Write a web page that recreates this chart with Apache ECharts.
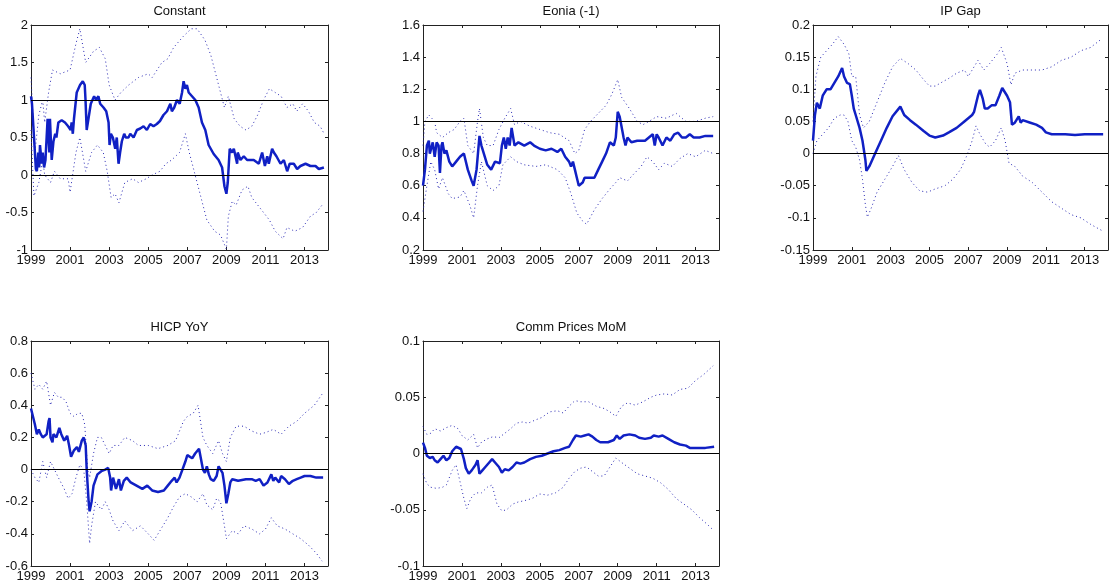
<!DOCTYPE html>
<html>
<head>
<meta charset="utf-8">
<script src="https://cdn.jsdelivr.net/npm/echarts@6/dist/echarts.min.js"></script>
<style>
  html, body { margin: 0; padding: 0; background: #fff; }
  #chart { width: 1110px; height: 586px; }
</style>
</head>
<body>
<div id="chart"></div>
<script>
// Time-varying coefficient estimates: median path and error bands, [year, value]
const titles = ['Constant', 'Eonia (-1)', 'IP Gap', 'HICP YoY', 'Comm Prices MoM'];

const xStart = 1999, xEnd = 2014.2, xStep = 2, lastYearLabel = 2013;

// y-axis ranges per panel: [min, max, step]
const constantAxis = [-1, 2, 0.5];
const eoniaAxis = [0.2, 1.6, 0.2];
const ipGapAxis = [-0.15, 0.2, 0.05];
const hicpAxis = [-0.6, 0.8, 0.2];
const commAxis = [-0.1, 0.1, 0.05];

// horizontal reference levels per panel
const constantRefs = [0, 1];
const eoniaRefs = [1];
const ipGapRefs = [0];
const hicpRefs = [0];
const commRefs = [0];

const constantMid = [[1999.0,1.05],[1999.05,0.95],[1999.12,0.65],[1999.2,0.3],[1999.25,0.08],[1999.3,0.05],[1999.37,0.3],[1999.42,0.1],[1999.46,0.4],[1999.55,0.15],[1999.6,0.3],[1999.67,0.1],[1999.74,0.2],[1999.8,0.5],[1999.85,0.75],[1999.94,0.3],[1999.97,0.75],[2000.06,0.2],[2000.15,0.45],[2000.24,0.55],[2000.3,0.5],[2000.4,0.7],[2000.57,0.73],[2000.74,0.7],[2000.9,0.65],[2001.03,0.6],[2001.08,0.7],[2001.14,0.55],[2001.2,0.75],[2001.34,1.1],[2001.51,1.2],[2001.65,1.25],[2001.75,1.2],[2001.79,1.0],[2001.85,0.6],[2001.94,0.75],[2002.06,0.95],[2002.23,1.05],[2002.33,1.0],[2002.45,1.05],[2002.54,0.95],[2002.71,0.9],[2002.85,0.85],[2002.97,0.7],[2003.02,0.4],[2003.09,0.55],[2003.19,0.5],[2003.31,0.35],[2003.39,0.5],[2003.48,0.15],[2003.56,0.3],[2003.65,0.45],[2003.77,0.55],[2003.85,0.5],[2003.99,0.5],[2004.08,0.55],[2004.25,0.5],[2004.42,0.6],[2004.59,0.62],[2004.76,0.65],[2004.93,0.6],[2005.1,0.68],[2005.27,0.65],[2005.44,0.68],[2005.6,0.72],[2005.78,0.8],[2005.96,0.85],[2006.13,0.95],[2006.21,0.85],[2006.33,0.9],[2006.47,1.0],[2006.61,0.95],[2006.73,1.1],[2006.81,1.25],[2006.9,1.15],[2006.98,1.2],[2007.07,1.1],[2007.24,1.05],[2007.41,1.0],[2007.58,0.9],[2007.75,0.7],[2007.92,0.6],[2008.09,0.4],[2008.35,0.28],[2008.6,0.2],[2008.78,0.1],[2008.9,-0.15],[2009.0,-0.25],[2009.07,-0.1],[2009.17,0.35],[2009.29,0.3],[2009.38,0.35],[2009.55,0.15],[2009.58,0.3],[2009.72,0.2],[2009.89,0.25],[2010.06,0.2],[2010.4,0.2],[2010.66,0.15],[2010.83,0.3],[2010.97,0.12],[2011.09,0.25],[2011.17,0.15],[2011.34,0.35],[2011.43,0.3],[2011.56,0.25],[2011.77,0.15],[2011.94,0.2],[2012.11,0.05],[2012.24,0.15],[2012.45,0.15],[2012.62,0.08],[2012.79,0.12],[2013.05,0.15],[2013.3,0.12],[2013.56,0.12],[2013.73,0.08],[2013.99,0.1]];
const constantUpper = [[1999.0,1.3],[1999.2,0.3],[1999.4,0.8],[1999.6,1.0],[1999.7,0.7],[1999.9,1.1],[2000.1,1.4],[2000.5,1.35],[2001.0,1.4],[2001.3,1.75],[2001.5,1.95],[2001.8,1.5],[2002.2,1.65],[2002.5,1.7],[2002.8,1.55],[2003.0,1.2],[2003.3,1.0],[2003.6,1.1],[2004.0,1.2],[2004.5,1.3],[2005.0,1.35],[2005.2,1.3],[2005.7,1.5],[2006.0,1.55],[2006.3,1.7],[2006.8,1.85],[2007.2,1.95],[2007.5,1.95],[2007.9,1.8],[2008.2,1.6],[2008.5,1.3],[2008.9,0.9],[2009.1,1.05],[2009.4,0.75],[2009.7,0.65],[2010.0,0.6],[2010.3,0.65],[2010.6,0.8],[2010.9,1.0],[2011.2,1.15],[2011.5,1.1],[2011.8,1.05],[2012.1,0.9],[2012.4,0.95],[2012.6,0.85],[2012.9,0.95],[2013.2,0.85],[2013.5,0.7],[2013.8,0.65],[2014.0,0.55]];
const constantLower = [[1999.0,0.6],[1999.15,-0.28],[1999.4,-0.1],[1999.6,0.2],[1999.7,0.0],[2000.0,-0.1],[2000.2,0.05],[2000.5,-0.05],[2000.9,-0.05],[2001.0,-0.23],[2001.3,0.3],[2001.5,0.5],[2001.8,0.05],[2002.1,0.3],[2002.4,0.4],[2002.7,0.3],[2002.9,0.05],[2003.1,-0.3],[2003.3,-0.25],[2003.5,-0.37],[2003.8,-0.1],[2004.2,-0.05],[2004.5,-0.1],[2004.9,-0.05],[2005.2,0.0],[2005.6,0.05],[2005.9,0.15],[2006.2,0.2],[2006.6,0.3],[2006.9,0.55],[2007.1,0.3],[2007.4,0.0],[2007.7,-0.3],[2008.0,-0.6],[2008.4,-0.75],[2008.7,-0.8],[2009.0,-0.99],[2009.1,-0.55],[2009.3,-0.35],[2009.5,-0.4],[2009.8,-0.2],[2010.1,-0.15],[2010.3,-0.3],[2010.6,-0.4],[2010.9,-0.5],[2011.2,-0.6],[2011.5,-0.75],[2011.9,-0.85],[2012.1,-0.7],[2012.5,-0.75],[2012.9,-0.7],[2013.3,-0.55],[2013.6,-0.5],[2013.9,-0.4]];

const eoniaMid = [[1999.0,0.6],[1999.1,0.7],[1999.2,0.85],[1999.3,0.88],[1999.35,0.8],[1999.5,0.87],[1999.6,0.78],[1999.7,0.87],[1999.8,0.85],[1999.87,0.68],[1999.95,0.85],[2000.0,0.87],[2000.1,0.8],[2000.2,0.82],[2000.35,0.75],[2000.5,0.72],[2000.7,0.75],[2000.9,0.78],[2001.1,0.8],[2001.3,0.7],[2001.5,0.63],[2001.6,0.6],[2001.75,0.7],[2001.9,0.91],[2002.0,0.85],[2002.3,0.73],[2002.5,0.7],[2002.7,0.75],[2002.95,0.74],[2003.05,0.85],[2003.15,0.9],[2003.25,0.83],[2003.35,0.9],[2003.45,0.85],[2003.55,0.96],[2003.7,0.85],[2003.9,0.87],[2004.2,0.85],[2004.5,0.87],[2004.7,0.85],[2005.0,0.83],[2005.3,0.82],[2005.6,0.83],[2005.9,0.81],[2006.1,0.83],[2006.3,0.78],[2006.5,0.75],[2006.6,0.72],[2006.7,0.75],[2006.8,0.7],[2006.9,0.65],[2007.0,0.6],[2007.2,0.62],[2007.3,0.65],[2007.8,0.65],[2008.0,0.7],[2008.2,0.75],[2008.4,0.8],[2008.6,0.87],[2008.8,0.85],[2008.9,0.9],[2009.0,1.06],[2009.1,1.03],[2009.3,0.9],[2009.4,0.85],[2009.5,0.9],[2009.7,0.87],[2010.0,0.88],[2010.4,0.88],[2010.6,0.9],[2010.8,0.92],[2010.9,0.85],[2011.0,0.92],[2011.1,0.9],[2011.3,0.85],[2011.5,0.9],[2011.7,0.88],[2011.9,0.92],[2012.1,0.93],[2012.3,0.9],[2012.5,0.9],[2012.7,0.92],[2012.9,0.9],[2013.2,0.9],[2013.5,0.91],[2013.9,0.91]];
const eoniaUpper = [[1999.0,0.85],[1999.1,1.0],[1999.3,1.04],[1999.6,1.0],[1999.7,0.93],[2000.0,0.9],[2000.3,0.93],[2000.6,0.95],[2000.9,1.0],[2001.1,1.02],[2001.3,0.85],[2001.6,0.8],[2001.8,1.0],[2001.9,1.08],[2002.1,0.9],[2002.3,0.85],[2002.6,0.85],[2002.9,0.95],[2003.2,1.02],[2003.5,1.08],[2003.7,0.98],[2004.0,1.0],[2004.5,0.97],[2005.0,0.95],[2005.5,0.93],[2006.0,0.92],[2006.5,0.88],[2006.8,0.8],[2007.0,0.82],[2007.3,0.95],[2007.6,1.0],[2008.0,1.05],[2008.4,1.1],[2008.7,1.17],[2009.0,1.26],[2009.2,1.15],[2009.6,1.08],[2010.0,1.0],[2010.3,0.98],[2010.6,1.0],[2011.0,1.03],[2011.5,1.02],[2012.0,1.05],[2012.5,1.0],[2013.0,1.0],[2013.5,1.02],[2013.9,1.03]];
const eoniaLower = [[1999.0,0.44],[1999.2,0.6],[1999.4,0.75],[1999.6,0.7],[1999.8,0.58],[2000.0,0.65],[2000.3,0.55],[2000.5,0.52],[2000.9,0.53],[2001.1,0.57],[2001.4,0.48],[2001.6,0.4],[2001.8,0.6],[2002.0,0.75],[2002.3,0.6],[2002.6,0.57],[2002.9,0.6],[2003.1,0.73],[2003.5,0.78],[2003.8,0.75],[2004.2,0.73],[2004.8,0.72],[2005.3,0.73],[2005.9,0.7],[2006.3,0.65],[2006.6,0.55],[2006.9,0.43],[2007.2,0.38],[2007.4,0.36],[2007.8,0.45],[2008.2,0.52],[2008.6,0.58],[2008.9,0.62],[2009.1,0.65],[2009.5,0.63],[2009.8,0.67],[2010.2,0.72],[2010.5,0.78],[2010.8,0.75],[2011.1,0.7],[2011.4,0.74],[2011.8,0.72],[2012.2,0.77],[2012.6,0.8],[2013.0,0.78],[2013.5,0.82],[2013.9,0.8]];

const ipGapMid = [[1999.0,0.02],[1999.1,0.06],[1999.2,0.079],[1999.35,0.07],[1999.5,0.09],[1999.7,0.1],[1999.9,0.1],[2000.1,0.11],[2000.3,0.12],[2000.5,0.133],[2000.6,0.12],[2000.75,0.11],[2000.9,0.108],[2001.0,0.09],[2001.1,0.07],[2001.2,0.06],[2001.3,0.06],[2001.4,0.04],[2001.55,0.02],[2001.7,-0.01],[2001.75,-0.027],[2001.9,-0.02],[2002.2,0.0],[2002.5,0.02],[2002.8,0.04],[2003.1,0.058],[2003.5,0.073],[2003.7,0.06],[2004.0,0.052],[2004.3,0.045],[2004.7,0.035],[2005.0,0.028],[2005.3,0.025],[2005.7,0.028],[2006.0,0.033],[2006.4,0.04],[2006.8,0.05],[2007.0,0.055],[2007.2,0.06],[2007.3,0.065],[2007.5,0.09],[2007.6,0.099],[2007.75,0.085],[2007.85,0.07],[2008.0,0.07],[2008.2,0.075],[2008.4,0.075],[2008.6,0.09],[2008.75,0.102],[2009.0,0.09],[2009.15,0.08],[2009.25,0.045],[2009.4,0.048],[2009.5,0.05],[2009.6,0.058],[2009.7,0.048],[2009.8,0.052],[2010.2,0.048],[2010.5,0.045],[2010.8,0.04],[2011.0,0.033],[2011.3,0.03],[2012.0,0.03],[2012.5,0.029],[2013.0,0.03],[2013.5,0.03],[2013.95,0.03]];
const ipGapUpper = [[1999.0,0.05],[1999.15,0.12],[1999.4,0.15],[1999.7,0.16],[2000.0,0.17],[2000.3,0.182],[2000.6,0.17],[2000.85,0.155],[2001.0,0.12],[2001.2,0.12],[2001.4,0.06],[2001.6,0.04],[2001.9,0.05],[2002.3,0.08],[2002.7,0.11],[2003.1,0.135],[2003.5,0.148],[2003.9,0.14],[2004.3,0.13],[2004.7,0.115],[2005.0,0.105],[2005.3,0.105],[2005.7,0.112],[2006.0,0.117],[2006.4,0.125],[2006.8,0.13],[2007.0,0.12],[2007.3,0.135],[2007.5,0.145],[2007.8,0.13],[2008.1,0.14],[2008.5,0.155],[2008.7,0.165],[2009.0,0.14],[2009.2,0.107],[2009.4,0.125],[2009.8,0.13],[2010.3,0.13],[2010.8,0.13],[2011.3,0.135],[2011.8,0.145],[2012.3,0.15],[2012.8,0.16],[2013.3,0.165],[2013.9,0.179]];
const ipGapLower = [[1999.0,0.0],[1999.2,0.02],[1999.5,0.03],[1999.8,0.04],[2000.1,0.055],[2000.4,0.06],[2000.6,0.06],[2000.8,0.05],[2001.0,0.02],[2001.2,0.01],[2001.4,-0.01],[2001.55,-0.04],[2001.7,-0.08],[2001.8,-0.099],[2002.0,-0.085],[2002.3,-0.06],[2002.7,-0.04],[2003.1,-0.02],[2003.4,-0.003],[2003.7,-0.025],[2004.1,-0.045],[2004.5,-0.058],[2004.9,-0.06],[2005.3,-0.055],[2005.8,-0.05],[2006.2,-0.04],[2006.6,-0.025],[2006.9,-0.005],[2007.2,0.02],[2007.4,0.043],[2007.6,0.03],[2007.9,0.015],[2008.1,0.01],[2008.4,0.02],[2008.7,0.04],[2008.9,0.02],[2009.1,-0.015],[2009.4,-0.02],[2009.8,-0.035],[2010.3,-0.045],[2010.8,-0.06],[2011.3,-0.075],[2011.8,-0.085],[2012.3,-0.095],[2012.8,-0.1],[2013.3,-0.11],[2013.9,-0.12]];

const hicpMid = [[1999.0,0.38],[1999.1,0.33],[1999.2,0.28],[1999.3,0.22],[1999.4,0.25],[1999.5,0.22],[1999.6,0.2],[1999.8,0.22],[1999.9,0.3],[1999.95,0.32],[2000.0,0.2],[2000.1,0.17],[2000.15,0.22],[2000.3,0.2],[2000.45,0.26],[2000.55,0.22],[2000.7,0.18],[2000.85,0.21],[2000.95,0.15],[2001.05,0.08],[2001.2,0.12],[2001.35,0.14],[2001.45,0.11],[2001.6,0.18],[2001.7,0.2],[2001.8,0.15],[2001.85,0.0],[2001.95,-0.2],[2002.0,-0.26],[2002.1,-0.2],[2002.2,-0.1],[2002.4,-0.03],[2002.6,-0.01],[2002.8,0.0],[2002.95,0.01],[2003.05,-0.05],[2003.1,-0.13],[2003.2,-0.05],[2003.35,-0.12],[2003.5,-0.06],[2003.6,-0.13],[2003.75,-0.07],[2003.9,-0.05],[2004.1,-0.08],[2004.4,-0.1],[2004.7,-0.12],[2004.95,-0.1],[2005.2,-0.13],[2005.5,-0.14],[2005.8,-0.13],[2006.0,-0.1],[2006.2,-0.07],[2006.35,-0.05],[2006.45,-0.08],[2006.6,-0.05],[2006.75,0.0],[2006.9,0.05],[2007.0,0.09],[2007.1,0.08],[2007.25,0.07],[2007.4,0.1],[2007.6,0.13],[2007.7,0.12],[2007.8,0.0],[2007.9,-0.02],[2008.0,0.02],[2008.1,-0.03],[2008.2,-0.06],[2008.35,-0.07],[2008.5,-0.04],[2008.6,0.02],[2008.7,0.03],[2008.8,-0.02],[2008.9,-0.1],[2009.0,-0.21],[2009.1,-0.15],[2009.2,-0.08],[2009.3,-0.06],[2009.6,-0.07],[2010.0,-0.06],[2010.3,-0.06],[2010.5,-0.07],[2010.7,-0.06],[2010.9,-0.1],[2011.0,-0.1],[2011.1,-0.08],[2011.3,-0.03],[2011.4,-0.07],[2011.5,-0.05],[2011.7,-0.08],[2011.8,-0.04],[2012.0,-0.06],[2012.2,-0.09],[2012.4,-0.07],[2012.6,-0.06],[2012.8,-0.05],[2013.0,-0.04],[2013.3,-0.04],[2013.6,-0.05],[2013.95,-0.05]];
const hicpUpper = [[1999.0,0.6],[1999.2,0.5],[1999.4,0.53],[1999.6,0.5],[1999.8,0.55],[2000.0,0.4],[2000.2,0.48],[2000.4,0.45],[2000.6,0.45],[2000.8,0.42],[2001.0,0.35],[2001.2,0.33],[2001.4,0.35],[2001.6,0.35],[2001.75,0.28],[2001.9,0.0],[2002.0,-0.05],[2002.2,0.1],[2002.4,0.2],[2002.6,0.2],[2002.8,0.15],[2003.0,0.1],[2003.2,0.15],[2003.5,0.15],[2003.8,0.2],[2004.2,0.18],[2004.5,0.15],[2005.0,0.15],[2005.5,0.13],[2006.0,0.15],[2006.4,0.18],[2006.8,0.3],[2007.0,0.33],[2007.3,0.35],[2007.55,0.4],[2007.8,0.2],[2008.0,0.15],[2008.3,0.1],[2008.6,0.18],[2008.8,0.1],[2009.0,0.05],[2009.2,0.2],[2009.5,0.27],[2009.9,0.27],[2010.3,0.24],[2010.7,0.22],[2011.0,0.23],[2011.4,0.25],[2011.8,0.22],[2012.2,0.27],[2012.6,0.3],[2013.0,0.35],[2013.5,0.4],[2013.9,0.47]];
const hicpLower = [[1999.0,0.0],[1999.2,-0.05],[1999.4,-0.08],[1999.6,0.05],[1999.8,-0.05],[2000.0,0.05],[2000.2,0.0],[2000.4,-0.05],[2000.7,-0.12],[2000.9,-0.18],[2001.1,-0.15],[2001.3,-0.05],[2001.5,0.03],[2001.7,0.0],[2001.85,-0.2],[2002.0,-0.46],[2002.1,-0.35],[2002.3,-0.2],[2002.6,-0.25],[2002.8,-0.2],[2003.0,-0.25],[2003.2,-0.32],[2003.5,-0.38],[2003.8,-0.32],[2004.2,-0.38],[2004.6,-0.35],[2005.0,-0.4],[2005.3,-0.44],[2005.6,-0.38],[2006.0,-0.3],[2006.3,-0.23],[2006.6,-0.17],[2006.9,-0.15],[2007.2,-0.17],[2007.5,-0.2],[2007.8,-0.15],[2008.0,-0.22],[2008.3,-0.25],[2008.5,-0.18],[2008.7,-0.2],[2008.9,-0.35],[2009.0,-0.43],[2009.3,-0.38],[2009.6,-0.4],[2009.9,-0.35],[2010.3,-0.37],[2010.7,-0.4],[2011.0,-0.37],[2011.3,-0.3],[2011.6,-0.35],[2012.0,-0.37],[2012.4,-0.4],[2012.8,-0.43],[2013.2,-0.47],[2013.6,-0.52],[2013.9,-0.57]];

const commMid = [[1999.0,0.0097],[1999.1,0.005],[1999.2,-0.002],[1999.35,-0.004],[1999.5,-0.003],[1999.6,-0.006],[1999.75,-0.008],[1999.9,-0.005],[2000.05,-0.002],[2000.2,-0.006],[2000.35,-0.004],[2000.5,0.002],[2000.7,0.006],[2000.8,0.0076],[2000.95,0.004],[2001.1,-0.005],[2001.2,-0.013],[2001.35,-0.018],[2001.5,-0.015],[2001.7,-0.01],[2001.8,-0.006],[2001.9,-0.018],[2002.05,-0.015],[2002.2,-0.012],[2002.4,-0.008],[2002.55,-0.005],[2002.7,-0.008],[2002.9,-0.012],[2003.05,-0.017],[2003.2,-0.014],[2003.4,-0.015],[2003.6,-0.012],[2003.8,-0.008],[2004.0,-0.009],[2004.2,-0.008],[2004.5,-0.005],[2004.8,-0.003],[2005.1,-0.002],[2005.4,0.0],[2005.7,0.002],[2006.0,0.003],[2006.3,0.005],[2006.5,0.006],[2006.7,0.012],[2006.85,0.016],[2007.1,0.015],[2007.3,0.016],[2007.5,0.017],[2007.7,0.015],[2007.9,0.012],[2008.1,0.01],[2008.5,0.01],[2008.8,0.012],[2008.95,0.016],[2009.1,0.013],[2009.3,0.016],[2009.6,0.017],[2009.9,0.016],[2010.1,0.014],[2010.4,0.013],[2010.7,0.014],[2010.85,0.016],[2011.1,0.015],[2011.3,0.016],[2011.6,0.013],[2011.9,0.01],[2012.2,0.008],[2012.5,0.007],[2012.7,0.005],[2013.0,0.005],[2013.5,0.005],[2013.95,0.006]];
const commUpper = [[1999.0,0.024],[1999.2,0.017],[1999.4,0.018],[1999.6,0.022],[1999.9,0.02],[2000.2,0.023],[2000.5,0.025],[2000.8,0.022],[2001.0,0.016],[2001.3,0.012],[2001.6,0.017],[2001.8,0.005],[2002.0,0.01],[2002.3,0.013],[2002.6,0.015],[2002.9,0.014],[2003.2,0.018],[2003.5,0.022],[2003.8,0.027],[2004.1,0.028],[2004.4,0.027],[2004.8,0.03],[2005.1,0.032],[2005.5,0.037],[2005.9,0.038],[2006.2,0.036],[2006.5,0.042],[2006.8,0.047],[2007.1,0.046],[2007.5,0.046],[2007.9,0.042],[2008.3,0.04],[2008.6,0.037],[2008.9,0.033],[2009.2,0.042],[2009.5,0.045],[2009.9,0.043],[2010.3,0.046],[2010.7,0.05],[2011.0,0.052],[2011.4,0.053],[2011.8,0.052],[2012.2,0.057],[2012.6,0.058],[2013.0,0.065],[2013.4,0.07],[2013.9,0.078]];
const commLower = [[1999.0,-0.018],[1999.2,-0.027],[1999.4,-0.03],[1999.7,-0.031],[2000.0,-0.03],[2000.2,-0.028],[2000.5,-0.015],[2000.7,-0.01],[2000.9,-0.025],[2001.1,-0.04],[2001.25,-0.049],[2001.45,-0.04],[2001.7,-0.035],[2002.0,-0.035],[2002.3,-0.03],[2002.55,-0.028],[2002.8,-0.045],[2003.05,-0.051],[2003.3,-0.05],[2003.6,-0.045],[2003.9,-0.043],[2004.2,-0.042],[2004.6,-0.04],[2005.0,-0.036],[2005.4,-0.037],[2005.8,-0.035],[2006.2,-0.03],[2006.5,-0.022],[2006.8,-0.016],[2007.1,-0.013],[2007.4,-0.012],[2007.7,-0.016],[2008.0,-0.02],[2008.3,-0.02],[2008.6,-0.012],[2008.9,-0.004],[2009.2,-0.008],[2009.6,-0.013],[2010.0,-0.018],[2010.4,-0.02],[2010.8,-0.022],[2011.2,-0.026],[2011.6,-0.032],[2012.0,-0.04],[2012.4,-0.045],[2012.8,-0.05],[2013.2,-0.057],[2013.6,-0.063],[2013.9,-0.068]];

// ---- assembly ----
const panels = [
  { title: titles[0], axis: constantAxis, refs: constantRefs, mid: constantMid, up: constantUpper, lo: constantLower },
  { title: titles[1], axis: eoniaAxis, refs: eoniaRefs, mid: eoniaMid, up: eoniaUpper, lo: eoniaLower },
  { title: titles[2], axis: ipGapAxis, refs: ipGapRefs, mid: ipGapMid, up: ipGapUpper, lo: ipGapLower },
  { title: titles[3], axis: hicpAxis, refs: hicpRefs, mid: hicpMid, up: hicpUpper, lo: hicpLower },
  { title: titles[4], axis: commAxis, refs: commRefs, mid: commMid, up: commUpper, lo: commLower }
];

// subplot boxes (pixels)
const boxes = [
  { left: 31, top: 25, width: 297, height: 225 },
  { left: 423, top: 25, width: 296, height: 225 },
  { left: 813, top: 25, width: 295, height: 225 },
  { left: 31, top: 341, width: 297, height: 225 },
  { left: 423, top: 341, width: 296, height: 225 }
];

const FONT = "'Liberation Sans', Arial, sans-serif";
const INK = '#111';
const MID_COLOR = '#1020c4';
const BAND_COLOR = '#2828b4';

const grid = [], xAxis = [], yAxis = [], series = [], title = [];

const lineOf = { show: true, onZero: false, lineStyle: { color: '#222', width: 1 } };
const tickOf = { show: true, inside: true, length: 3, lineStyle: { color: '#222', width: 1 } };

panels.forEach((p, i) => {
  const b = boxes[i];
  grid.push({ left: b.left, top: b.top, width: b.width, height: b.height, containLabel: false, show: false });
  title.push({
    text: p.title, left: b.left + b.width / 2, top: b.top - 20, textAlign: 'center', padding: 0,
    textStyle: { fontFamily: FONT, fontSize: 13, fontWeight: 'normal', color: INK }
  });
  const xBase = { type: 'value', gridIndex: i, min: xStart, max: xEnd, interval: xStep,
    splitLine: { show: false }, axisLine: lineOf, axisTick: tickOf };
  xAxis.push(Object.assign({}, xBase, {
    position: 'bottom',
    axisLabel: { show: true, margin: 4, fontFamily: FONT, fontSize: 13, color: INK,
      showMaxLabel: false,
      formatter: v => (Math.abs(v - Math.round(v)) < 1e-6 && v <= lastYearLabel) ? String(Math.round(v)) : '' }
  }));
  xAxis.push(Object.assign({}, xBase, { position: 'top', axisLabel: { show: false } }));
  const yBase = { type: 'value', gridIndex: i, min: p.axis[0], max: p.axis[1], interval: p.axis[2],
    splitLine: { show: false }, axisLine: lineOf, axisTick: tickOf };
  yAxis.push(Object.assign({}, yBase, {
    position: 'left',
    axisLabel: { show: true, margin: 3, fontFamily: FONT, fontSize: 13, color: INK }
  }));
  yAxis.push(Object.assign({}, yBase, { position: 'right', axisLabel: { show: false } }));

  const xi = i * 2, yi = i * 2;
  const band = data => ({
    type: 'line', xAxisIndex: xi, yAxisIndex: yi, data, showSymbol: false, symbol: 'none',
    silent: true, lineStyle: { color: BAND_COLOR, width: 1, type: [1, 3] }, z: 2
  });
  series.push(band(p.up));
  series.push(band(p.lo));
  series.push({
    type: 'line', xAxisIndex: xi, yAxisIndex: yi, data: p.mid, showSymbol: false, symbol: 'none',
    silent: true, lineStyle: { color: MID_COLOR, width: 2.5 }, z: 3,
    markLine: {
      silent: true, symbol: ['none', 'none'], animation: false,
      label: { show: false },
      lineStyle: { color: '#000', width: 1, type: 'solid' },
      data: p.refs.map(r => ({ yAxis: r }))
    }
  });
});

const chart = echarts.init(document.getElementById('chart'), null, { renderer: 'canvas' });
chart.setOption({
  animation: false,
  backgroundColor: '#fff',
  title, grid, xAxis, yAxis, series
});
</script>
</body>
</html>
